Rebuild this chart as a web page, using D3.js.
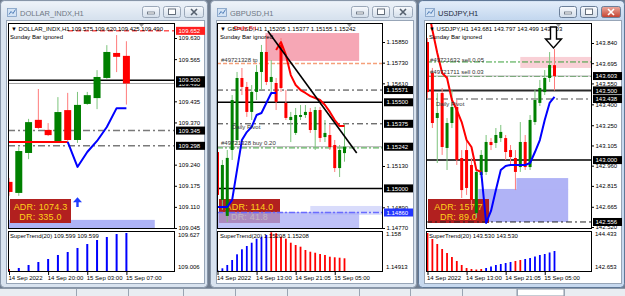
<!DOCTYPE html>
<html><head><meta charset="utf-8">
<script src="https://cdn.jsdelivr.net/npm/d3@7/dist/d3.min.js"></script>
<style>
html,body{margin:0;padding:0;overflow:hidden;background:#6f7c8e}
svg{display:block}
text{font-family:"Liberation Sans",Arial,sans-serif}
</style></head><body>
<svg width="625" height="296"></svg>
<script>
// ================= DATA =================
// ---- DOLLAR_INDX,H1 ----
const dxOpen  = [109.187,109.153,109.276,109.378,109.347,109.310,109.408,109.316,109.427,109.445,109.507,109.584,109.575];
const dxHigh  = [109.199,109.294,109.381,109.473,109.368,109.448,109.461,109.464,109.464,109.531,109.608,109.639,109.620];
const dxLow   = [109.144,109.144,109.257,109.350,109.328,109.310,109.313,109.307,109.424,109.411,109.504,109.525,109.425];
const dxClose = [109.156,109.282,109.371,109.353,109.331,109.402,109.316,109.424,109.454,109.510,109.587,109.572,109.490];
const dxTrendDown = [109.310,109.310,109.310,109.310,109.310,109.310,109.310,null,null,null,null,null,null];
const dxTrendUp   = [null,null,null,null,null,null,109.310,109.233,109.279,109.313,109.356,109.414,109.414];
const dxHist    = [108.967,108.987,109.045,109.103,109.161,109.239,109.297,109.375,109.452,109.530,109.588,109.646,109.666];
const dxHistDir = [-1,1,1,1,1,1,1,1,1,1,1,1,1];
const dxPriceTicks = [109.630,109.565,109.435,109.370,109.240,109.175,109.110,109.045];
const dxSolid = [109.500];
const dxDashDot = [109.345,109.298];
const dxPrevHigh = 109.652;
const dxBid = 109.490;
const dxZoneIdx = [-1,14.9];
const dxZonePrice = [109.035,109.070];
const dxArrowIdx = 7;
const dxArrowPrice = [109.140,109.110];
const dxIndTicks = [109.627,109.006];
const dxIndTickLabels = ["109.627","109.006"];
const dxTimeIdx = [0,4,8,12];
const dxTimeLabels = ["14 Sep 2022","14 Sep 20:00","15 Sep 03:00","15 Sep 07:00"];
const dxADR = ["ADR: 1074.3","DR: 335.0"];

// ---- GBPUSD,H1 ----
const gbOpen  = [1.15211,1.14933,1.14840,1.15223,1.15281,1.15641,1.15589,1.15444,1.15560,1.15676,1.15792,1.15618,1.15612,1.15833,1.15496,1.15397,1.15322,1.15415,1.15426,1.15444,1.15339,1.15455,1.15298,1.15310,1.15252,1.15118,1.15205];
const gbHigh  = [1.15322,1.15165,1.15223,1.15542,1.15676,1.15699,1.15618,1.15600,1.15716,1.15833,1.15891,1.15745,1.15641,1.15873,1.15571,1.15444,1.15467,1.15484,1.15484,1.15467,1.15473,1.15473,1.15397,1.15368,1.15281,1.15252,1.15377];
const gbLow   = [1.14904,1.14875,1.14805,1.15165,1.15252,1.15542,1.15415,1.15397,1.15513,1.15571,1.15600,1.15542,1.15455,1.15560,1.15397,1.15269,1.15310,1.15397,1.15409,1.15322,1.15223,1.15269,1.15269,1.15223,1.15095,1.15066,1.15155];
const gbClose = [1.14962,1.15136,1.15177,1.15513,1.15641,1.15589,1.15444,1.15560,1.15676,1.15792,1.15618,1.15647,1.15502,1.15583,1.15409,1.15415,1.15426,1.15426,1.15444,1.15339,1.15455,1.15293,1.15322,1.15240,1.15118,1.15223,1.15242];
const gbTrendUp   = [1.14892,1.14892,1.14892,1.14933,1.15107,1.15281,1.15327,1.15357,1.15426,1.15438,1.15496,1.15554,1.15554,null,null,null,null,null,null,null,null,null,null,null,null,null,null];
const gbTrendDown = [null,null,null,null,null,null,null,null,null,null,null,null,1.15804,1.15850,1.15775,1.15658,1.15600,1.15571,1.15554,1.15536,1.15525,1.15513,1.15484,1.15444,1.15397,1.15362,1.15362];
const gbHist    = [1.14832,1.14878,1.14967,1.15101,1.15254,1.15389,1.15477,1.15566,1.15674,1.15727,1.15773,1.15846,1.15819,1.15727,1.15674,1.15566,1.15504,1.15459,1.15370,1.15324,1.15297,1.15262,1.15236,1.15190,1.15174,1.15163,1.15147];
const gbHistDir = [1,1,1,1,1,1,1,1,1,1,1,-1,-1,-1,-1,-1,-1,-1,-1,-1,-1,-1,-1,-1,-1,-1,-1];
const gbPriceTicks = [1.15850,1.15730,1.15610,1.15130,1.14890,1.14770];
const gbSolid = [1.15500,1.15000];
const gbDashDot = [1.15571,1.15375];
const gbTakeProfit = 1.15725;
const gbBuyEntry = 1.15235;
const gbBid = 1.15242;
const gbBlueLevel = 1.14860;
const gbTrendIdx = [10.3,28.5];
const gbTrendPrice = [1.15914,1.15206];
const gbSupplyIdx = [9.8,29];
const gbSupplyPrice = [1.15740,1.15902];
const gbDemandIdx = [-1,29];
const gbDemandPrice = [1.14740,1.14863];
const gbDemand2Idx = [19,35];
const gbDemand2Price = [1.14846,1.14898];
const gbIndTicks = [1.158,1.14913];
const gbIndTickLabels = ["1.158","1.14913"];
const gbTimeIdx = [0,8,16,24];
const gbTimeLabels = ["14 Sep 2022","14 Sep 13:00","14 Sep 21:05","15 Sep 05:00"];
const gbADR = ["ADR: 114.0","DR: 41.8"];

// ---- USDJPY,H1 ----
const jpOpen  = [143.847,143.625,143.302,143.481,143.087,143.266,143.381,143.015,143.072,142.965,142.620,142.893,142.915,143.130,143.123,143.158,143.158,143.072,143.015,142.950,143.130,142.950,143.273,143.410,143.488,143.589,143.681];
const jpHigh  = [143.876,143.661,143.481,143.517,143.302,143.503,143.431,143.072,143.144,143.015,142.943,143.072,143.180,143.158,143.230,143.252,143.180,143.108,143.072,143.273,143.180,143.323,143.503,143.575,143.646,143.775,143.797];
const jpLow   = [143.445,143.230,142.979,143.037,142.929,143.230,142.965,142.728,142.750,142.642,142.585,142.871,142.893,143.072,143.087,143.130,143.001,142.965,142.785,142.915,142.929,142.929,143.252,143.388,143.467,143.560,143.499];
const jpClose = [143.488,143.266,143.338,143.094,143.266,143.381,143.001,142.785,142.800,142.714,142.915,143.037,143.130,143.108,143.180,143.202,143.058,143.022,142.915,143.130,142.950,143.288,143.431,143.517,143.589,143.682,143.603];
const jpTrendDown = [144.113,143.933,143.768,143.625,143.589,143.431,143.359,143.273,143.144,143.094,142.929,142.915,null,null,null,null,null,null,null,null,null,null,null,null,null,null,null];
const jpTrendUp   = [null,null,null,null,null,null,null,null,null,null,null,142.915,142.549,142.635,142.785,142.929,142.958,142.965,142.965,142.965,142.965,142.979,143.058,143.144,143.288,143.410,143.453];
const jpHist    = [144.487,144.163,143.894,143.624,143.408,143.192,142.977,142.761,142.599,142.545,142.518,142.545,142.599,142.680,142.761,142.815,142.869,142.923,142.977,143.031,143.085,143.138,143.219,143.300,143.354,143.435,143.516];
const jpHistDir = [-1,-1,-1,-1,-1,-1,-1,-1,-1,-1,-1,-1,1,1,1,1,1,1,-1,-1,1,1,1,1,1,1,1];
const jpPriceTicks = [143.840,143.695,143.550,143.400,143.250,143.105,142.960,142.815,142.665,142.520];
const jpSolid = [143.500,143.000];
const jpPivot = 143.438;
const jpLowLevel = 142.556;
const jpSells = [143.704,143.600];
const jpSellLabels = ["#49721632 sell 0.05","#49721711 sell 0.03"];
const jpBid = 143.603;
const jpSupplyIdx = [19,35];
const jpSupplyPrice = [143.661,143.740];
const jpDemandIdx = [10.4,28.8];
const jpDemandPrice = [142.556,142.793];
const jpDemand2Idx = [18.2,28.8];
const jpDemand2Price = [142.790,142.871];
const jpArrowIdx = 26;
const jpArrowPrice = [143.955,143.804];
const jpIndTicks = [144.433,142.653];
const jpIndTickLabels = ["144.433","142.653"];
const jpTimeIdx = [0,8,16,24];
const jpTimeLabels = ["14 Sep 2022","14 Sep 13:00","14 Sep 21:05","15 Sep 05:00"];
const jpADR = ["ADR: 157.7","DR: 89.0"];

// ================= DRAWING =================
const FF = "'Liberation Sans', Arial, sans-serif";
const svg = d3.select("svg");
svg.append("rect").attr("width",625).attr("height",296).attr("fill","#6f7c8e");
const defs = svg.append("defs");
function lg(id,c1,c2){const g=defs.append("linearGradient").attr("id",id).attr("x1",0).attr("y1",0).attr("x2",0).attr("y2",1);
  g.append("stop").attr("offset",0).attr("stop-color",c1);g.append("stop").attr("offset",1).attr("stop-color",c2);}
lg("tbI","#eef3f9","#d6e1ee");
lg("tbA","#e3edf9","#c3d7ef");
lg("btn","#f8fafd","#d3deea");
lg("btnX","#ecab9f","#c3402e");

function windowFrame(x,w,title,active){
  const g=svg.append("g");
  g.append("rect").attr("x",x+0.5).attr("y",0.5).attr("width",w-1).attr("height",287).attr("rx",4)
    .attr("fill",active?"#c6d8ee":"#d9e3ef").attr("stroke",active?"#5f7796":"#8795a8");
  g.append("rect").attr("x",x+1.5).attr("y",1.5).attr("width",w-3).attr("height",18).attr("rx",3)
    .attr("fill",active?"url(#tbA)":"url(#tbI)");
  g.append("rect").attr("x",x+6.5).attr("y",20.5).attr("width",w-10).attr("height",263).attr("fill","#fff").attr("stroke","#97a5b7");
  g.append("rect").attr("x",x+7.5).attr("y",8.5).attr("width",9).attr("height",8).attr("fill","#d3e3f5").attr("stroke","#7f9dc2").attr("stroke-width",0.8);
  g.append("path").attr("d",`M${x+9},14.5 L${x+11},11.5 L${x+13},13.5 L${x+15.5},9.5`).attr("fill","none").attr("stroke","#3d6fb0").attr("stroke-width",0.9);
  g.append("text").attr("x",x+20).attr("y",15.5).attr("font-size",7.5).attr("fill",active?"#1e2a3a":"#6f7884").text(title);
  const bts=[{dx:w-66,bw:17,k:"min"},{dx:w-45,bw:17,k:"max"},{dx:w-24,bw:19,k:"close"}];
  bts.forEach(b=>{
    const bx=x+b.dx, by=6;
    const red=active&&b.k==="close";
    g.append("rect").attr("x",bx+0.5).attr("y",by+0.5).attr("width",b.bw).attr("height",11).attr("rx",2)
      .attr("fill",red?"url(#btnX)":"url(#btn)").attr("stroke",active?"#6b7f99":"#9aa7b8");
    const cx=bx+b.bw/2+0.5, cy=by+6;
    const gc=red?"#fff":"#55606e";
    if(b.k==="min") g.append("rect").attr("x",cx-3.5).attr("y",cy).attr("width",7).attr("height",2).attr("fill","#fff").attr("stroke",gc).attr("stroke-width",0.7);
    if(b.k==="max") g.append("rect").attr("x",cx-3.5).attr("y",cy-3).attr("width",7).attr("height",5.5).attr("fill","#fff").attr("stroke",gc).attr("stroke-width",0.9);
    if(b.k==="close") g.append("path").attr("d",`M${cx-3},${cy-3} L${cx+3},${cy+3} M${cx+3},${cy-3} L${cx-3},${cy+3}`).attr("stroke",gc).attr("stroke-width",1.6);
  });
}

function chartBase(id,x0,x1){
  const c={id,x0,x1,top:23,bot:229,iTop:231,iBot:272};
  defs.append("clipPath").attr("id","m"+id).append("rect").attr("x",x0).attr("y",c.top).attr("width",x1-x0).attr("height",c.bot-c.top);
  defs.append("clipPath").attr("id","i"+id).append("rect").attr("x",x0).attr("y",c.iTop).attr("width",x1-x0).attr("height",c.iBot-c.iTop);
  c.g=svg.append("g");
  c.m=c.g.append("g").attr("clip-path",`url(#m${id})`);
  c.i=c.g.append("g").attr("clip-path",`url(#i${id})`);
  return c;
}
function zone(c,xs,ys,ix,pr,fill,op){
  c.m.append("rect").attr("x",xs(ix[0])).attr("width",xs(ix[1])-xs(ix[0]))
    .attr("y",ys(pr[1])).attr("height",ys(pr[0])-ys(pr[1])).attr("fill",fill).attr("opacity",op==null?1:op);
}
function hline(c,ys,p,stroke,w,dash,xFrom){
  c.m.append("line").attr("x1",xFrom==null?c.x0:xFrom).attr("x2",c.x1).attr("y1",ys(p)).attr("y2",ys(p))
    .attr("stroke",stroke).attr("stroke-width",w).attr("stroke-dasharray",dash||null);
}
function candles(c,xs,ys,O,H,L,C,bw){
  const idx=d3.range(O.length), up=i=>C[i]>=O[i];
  c.m.append("g").selectAll("line").data(idx).join("line")
    .attr("x1",i=>xs(i)).attr("x2",i=>xs(i)).attr("y1",i=>ys(H[i])).attr("y2",i=>ys(L[i]))
    .attr("stroke",i=>up(i)?"#7cc47c":"#ff7b7b").attr("stroke-width",1);
  c.m.append("g").selectAll("rect").data(idx).join("rect")
    .attr("x",i=>xs(i)-bw/2).attr("width",bw)
    .attr("y",i=>ys(Math.max(O[i],C[i]))).attr("height",i=>Math.max(1,Math.abs(ys(O[i])-ys(C[i]))))
    .attr("fill",i=>up(i)?"#008000":"#ff0000");
}
function trend(c,xs,ys,arr,color){
  const line=d3.line().defined(v=>v!=null).x((v,i)=>xs(i)).y(v=>ys(v));
  c.m.append("path").attr("d",line(arr)).attr("fill","none").attr("stroke",color).attr("stroke-width",2).attr("stroke-linejoin","round");
}
function hist(c,xs,is,vals,dirs,bw){
  c.i.append("g").selectAll("rect").data(vals).join("rect")
    .attr("x",(v,i)=>xs(i)-bw/2).attr("width",bw).attr("y",v=>is(v)).attr("height",v=>c.iBot-is(v))
    .attr("fill",(v,i)=>dirs[i]>0?"#0000ff":"#ff0000");
}
function adrBox(c,lines){
  const x=c.x0+2,y=199,w=61,h=24;
  c.m.append("rect").attr("x",x).attr("y",y).attr("width",w).attr("height",h).attr("fill","#b2201f");
  lines.forEach((t,k)=>c.m.append("text").attr("x",x+w/2).attr("y",y+10.5+k*10.5).attr("text-anchor","middle")
    .attr("font-size",9).attr("fill","#ffd21a").attr("letter-spacing",0.2).text(t));
}
function txt(c,x,y,t,col,size){
  c.g.append("text").attr("x",x).attr("y",y).attr("font-size",size||6).attr("fill",col||"#000").text(t);
}
function frame(c){
  c.g.append("rect").attr("x",c.x0+0.5).attr("y",c.top+0.5).attr("width",c.x1-c.x0-1).attr("height",c.bot-c.top-1).attr("fill","none").attr("stroke","#000");
  c.g.append("rect").attr("x",c.x0+0.5).attr("y",c.iTop+0.5).attr("width",c.x1-c.x0-1).attr("height",c.iBot-c.iTop-1).attr("fill","none").attr("stroke","#000");
  c.g.append("path").attr("d",`M${c.x1-36},${c.top+1} l5,0 l-2.5,3 z`).attr("fill","#9a9a9a");
}
function priceAxis(c,ys,ticks,fmt){
  const a=c.g.append("g").attr("transform",`translate(${c.x1},0)`)
    .call(d3.axisRight(ys).tickValues(ticks).tickFormat(fmt).tickSize(2).tickPadding(1.5));
  a.select(".domain").remove();
  a.attr("font-size",6).attr("font-family",FF);
  a.selectAll("text").attr("fill","#000");
  a.selectAll("line").attr("stroke","#000");
}
function tag(c,ys,p,t,fill,tc){
  const y=ys(p);
  c.g.append("rect").attr("x",c.x1+1).attr("y",y-4).attr("width",29).attr("height",8).attr("fill",fill);
  c.g.append("text").attr("x",c.x1+3.5).attr("y",y+2.2).attr("font-size",6).attr("fill",tc).text(t);
}
function timeAxis(c,xs,idx,labels){
  const a=c.g.append("g").attr("transform",`translate(0,${c.iBot})`)
    .call(d3.axisBottom(xs).tickValues(idx).tickFormat((d,i)=>labels[i]).tickSize(3).tickPadding(1));
  a.select(".domain").remove();
  a.attr("font-size",6).attr("font-family",FF);
  a.selectAll("text").attr("text-anchor","start").attr("fill","#000").attr("dx",-1);
  a.selectAll("line").attr("stroke","#000");
}

// ---- windows ----
windowFrame(0,208,"DOLLAR_INDX,H1",false);
windowFrame(210,207,"GBPUSD,H1",false);
windowFrame(418,207,"USDJPY,H1",true);

// ---------- Panel 1: DOLLAR_INDX ----------
{
  const c=chartBase("dx",8,175);
  const xs=d3.scaleLinear().domain([0,12]).range([9,126.4]);
  const ys=d3.scaleLinear().domain([109.630,109.045]).range([38,228]);
  const is=d3.scaleLinear().domain([109.627,109.006]).range([235,267]);
  zone(c,xs,ys,dxZoneIdx,dxZonePrice,"#aeb3f6");
  adrBox(c,dxADR);
  hline(c,ys,dxPrevHigh,"#ff0000",1,"5,3",68);
  dxDashDot.forEach(p=>hline(c,ys,p,"#7a7a7a",1.5,"7,3,2,3"));
  hline(c,ys,dxBid,"#a0a0a0",1);
  dxSolid.forEach(p=>hline(c,ys,p,"#000",1.5));
  candles(c,xs,ys,dxOpen,dxHigh,dxLow,dxClose,7);
  trend(c,xs,ys,dxTrendDown,"#ff0000");
  trend(c,xs,ys,dxTrendUp,"#0000ff");
  { const x=xs(dxArrowIdx), yt=ys(dxArrowPrice[0]), yb=ys(dxArrowPrice[1]);
    c.m.append("path").attr("d",`M${x},${yt} L${x+4.5},${yt+5} L${x+1.2},${yt+5} L${x+1.2},${yb} L${x-1.2},${yb} L${x-1.2},${yt+5} L${x-4.5},${yt+5} Z`).attr("fill","#1f3bff"); }
  hist(c,xs,is,dxHist,dxHistDir,2);
  txt(c,11,31,"▼ DOLLAR_INDX,H1  109.575 109.620 109.425 109.490");
  txt(c,10,39,"Sunday Bar ignored");
  txt(c,10,238,"SuperTrend(20) 109.599 109.599");
  frame(c);
  priceAxis(c,ys,dxPriceTicks,d3.format(".3f"));
  tag(c,ys,dxPrevHigh,"109.652","#ff2020","#fff");
  tag(c,ys,dxBid,"109.490","#000","#fff");
  dxSolid.forEach(p=>tag(c,ys,p,p.toFixed(3),"#000","#fff"));
  dxDashDot.forEach(p=>tag(c,ys,p,p.toFixed(3),"#000","#fff"));
  const ia=c.g.append("g").attr("transform",`translate(${c.x1},0)`).call(d3.axisRight(is).tickValues(dxIndTicks).tickFormat((d,i)=>dxIndTickLabels[i]).tickSize(0).tickPadding(3));
  ia.select(".domain").remove(); ia.attr("font-size",6).attr("font-family",FF); ia.selectAll("text").attr("fill","#000");
  timeAxis(c,xs,dxTimeIdx,dxTimeLabels);
}

// ---------- Panel 2: GBPUSD ----------
{
  const c=chartBase("gb",217,383);
  const xs=d3.scaleLinear().domain([0,26]).range([217.5,344.5]);
  const ys=d3.scaleLinear().domain([1.15850,1.14770]).range([42,228]);
  const is=d3.scaleLinear().domain([1.158,1.14913]).range([234,267]);
  adrBox(c,gbADR);
  zone(c,xs,ys,gbSupplyIdx,gbSupplyPrice,"#f6a7b5");
  zone(c,xs,ys,gbDemand2Idx,gbDemand2Price,"#d9dcfb");
  zone(c,xs,ys,gbDemandIdx,gbDemandPrice,"#a9aef6",0.75);
  hline(c,ys,gbTakeProfit,"#f5a07a",1.5,"4,2");
  gbDashDot.forEach(p=>hline(c,ys,p,"#333",1,"6,3,2,3"));
  gbSolid.forEach(p=>hline(c,ys,p,"#000",1.5));
  hline(c,ys,gbBid,"#b0b0b0",1);
  hline(c,ys,gbBuyEntry,"#3aa03a",1,"6,2,2,2");
  hline(c,ys,gbBlueLevel,"#6a6cff",1.5,"6,2,2,2");
  candles(c,xs,ys,gbOpen,gbHigh,gbLow,gbClose,3);
  trend(c,xs,ys,gbTrendUp,"#0000ff");
  trend(c,xs,ys,gbTrendDown,"#ff0000");
  c.m.append("line").attr("x1",xs(gbTrendIdx[0])).attr("y1",ys(gbTrendPrice[0])).attr("x2",xs(gbTrendIdx[1])).attr("y2",ys(gbTrendPrice[1])).attr("stroke","#000").attr("stroke-width",1.6);
  hist(c,xs,is,gbHist,gbHistDir,1.8);
  txt(c,220,31,"▼ GBPUSD,H1  1.15205 1.15377 1.15155 1.15242");
  txt(c,234,30,"Daily Fri","#ff0000");
  txt(c,220,39,"Sunday Bar ignored");
  txt(c,221,62,"#49721328 tp","#333");
  txt(c,232,129,"Daily Pivot","#333");
  txt(c,221,145,"#49721328 buy 0.20","#333");
  txt(c,220,238,"SuperTrend(20) 1.15208 1.15208");
  frame(c);
  priceAxis(c,ys,gbPriceTicks,d3.format(".5f"));
  gbDashDot.forEach(p=>tag(c,ys,p,p.toFixed(5),"#000","#fff"));
  gbSolid.forEach(p=>tag(c,ys,p,p.toFixed(5),"#000","#fff"));
  tag(c,ys,gbBid,gbBid.toFixed(5),"#000","#fff");
  tag(c,ys,gbBlueLevel,gbBlueLevel.toFixed(5),"#2436ff","#fff");
  const ia=c.g.append("g").attr("transform",`translate(${c.x1},0)`).call(d3.axisRight(is).tickValues(gbIndTicks).tickFormat((d,i)=>gbIndTickLabels[i]).tickSize(0).tickPadding(3));
  ia.select(".domain").remove(); ia.attr("font-size",6).attr("font-family",FF); ia.selectAll("text").attr("fill","#000");
  timeAxis(c,xs,gbTimeIdx,gbTimeLabels);
}

// ---------- Panel 3: USDJPY ----------
{
  const c=chartBase("jp",426,592);
  const xs=d3.scaleLinear().domain([0,26]).range([427.5,554.5]);
  const ys=d3.scaleLinear().domain([143.840,142.520]).range([43,227]);
  const is=d3.scaleLinear().domain([144.433,142.653]).range([234,267]);
  zone(c,xs,ys,jpSupplyIdx,jpSupplyPrice,"#f9d0d6");
  zone(c,xs,ys,jpDemandIdx,jpDemandPrice,"#b0b3f6");
  zone(c,xs,ys,jpDemand2Idx,jpDemand2Price,"#b0b3f6");
  adrBox(c,jpADR);
  jpSells.forEach(p=>hline(c,ys,p,"#3aa03a",1,"6,2,2,2"));
  hline(c,ys,jpBid,"#b0b0b0",1);
  hline(c,ys,jpPivot,"#8a8a8a",1.5,"7,3,2,3");
  hline(c,ys,jpLowLevel,"#222",1,"6,3,2,3");
  hline(c,ys,jpSolid[0],"#2a2a2a",2);
  hline(c,ys,jpSolid[1],"#000",1.5);
  candles(c,xs,ys,jpOpen,jpHigh,jpLow,jpClose,3);
  trend(c,xs,ys,jpTrendDown,"#ff0000");
  trend(c,xs,ys,jpTrendUp,"#0000ff");
  hist(c,xs,is,jpHist,jpHistDir,1.8);
  txt(c,429,31,"▼ USDJPY,H1  143.681 143.797 143.499 143.603");
  txt(c,429,39,"Sunday Bar ignored");
  txt(c,430,62,jpSellLabels[0],"#333");
  txt(c,430,74,jpSellLabels[1],"#333");
  txt(c,436,106,"Daily Pivot","#333");
  { const x=xs(jpArrowIdx)-1, yt=ys(jpArrowPrice[0]), yb=ys(jpArrowPrice[1]), ym=yb-9;
    c.g.append("path").attr("d",`M${x-3},${yt} L${x+3},${yt} L${x+3},${ym} L${x+8},${ym} L${x},${yb} L${x-8},${ym} L${x-3},${ym} Z`)
      .attr("fill","#fff").attr("stroke","#000").attr("stroke-width",1.4).attr("stroke-linejoin","miter"); }
  txt(c,429,238,"SuperTrend(20) 143.530 143.530");
  frame(c);
  priceAxis(c,ys,jpPriceTicks,d3.format(".3f"));
  tag(c,ys,jpBid,jpBid.toFixed(3),"#000","#fff");
  jpSolid.forEach(p=>tag(c,ys,p,p.toFixed(3),"#000","#fff"));
  tag(c,ys,jpPivot,jpPivot.toFixed(3),"#000","#fff");
  tag(c,ys,jpLowLevel,jpLowLevel.toFixed(3),"#000","#fff");
  const ia=c.g.append("g").attr("transform",`translate(${c.x1},0)`).call(d3.axisRight(is).tickValues(jpIndTicks).tickFormat((d,i)=>jpIndTickLabels[i]).tickSize(0).tickPadding(3));
  ia.select(".domain").remove(); ia.attr("font-size",6).attr("font-family",FF); ia.selectAll("text").attr("fill","#000");
  timeAxis(c,xs,jpTimeIdx,jpTimeLabels);
}

// ---- bottom tab strip ----
{
  const g=svg.append("g");
  g.append("rect").attr("x",0).attr("y",288).attr("width",625).attr("height",8).attr("fill","#e9edf2");
  g.append("line").attr("x1",0).attr("x2",625).attr("y1",288.5).attr("y2",288.5).attr("stroke","#8d99a8");
  const seps=[76,128,183,235,287,359,410,462,517,564];
  g.append("rect").attr("x",517).attr("y",289).attr("width",47).attr("height",7).attr("fill","#fff").attr("stroke","#8d99a8");
  seps.forEach(s=>g.append("line").attr("x1",s+0.5).attr("x2",s+0.5).attr("y1",289).attr("y2",296).attr("stroke","#9aa5b3"));
}
</script></body></html>
